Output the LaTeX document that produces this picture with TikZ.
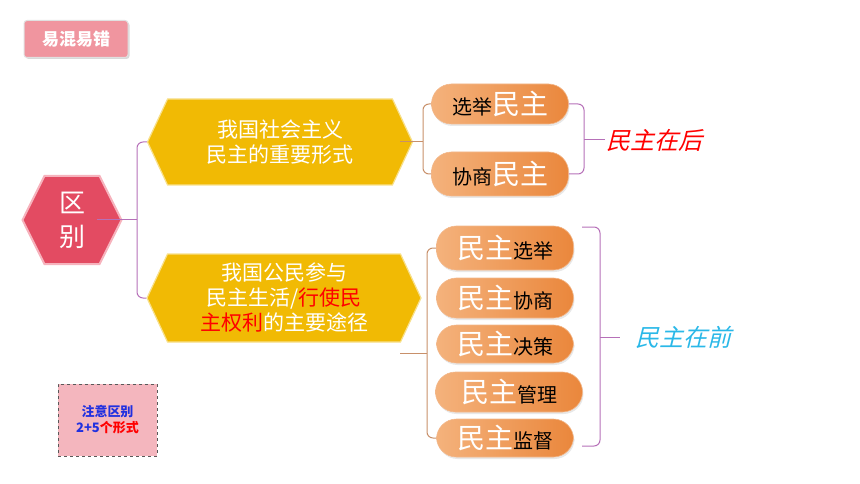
\documentclass[tikz,border=0pt]{standalone}
\usepackage{fontspec}
\setmainfont{Noto Sans CJK SC}
\newfontfamily\cjkslant[FakeSlant=0.25]{Noto Sans CJK SC}
\usetikzlibrary{shapes.symbols,shadows,positioning}
\definecolor{hexred}{HTML}{E34B62}
\definecolor{hexrim}{HTML}{F6B3BD}
\definecolor{hexgold}{HTML}{F1BA04}
\definecolor{goldrim}{HTML}{F8E08A}
\definecolor{pillL}{HTML}{F4B27C}
\definecolor{pillR}{HTML}{EA873C}
\definecolor{linkpurple}{HTML}{B670B8}
\definecolor{linkbrown}{HTML}{C8906A}
\definecolor{hotred}{HTML}{FF0000}
\definecolor{skyblue}{HTML}{2AB8E8}
\definecolor{tagpink}{HTML}{F0959F}
\definecolor{notepink}{HTML}{F4B6BE}
\definecolor{noteblue}{HTML}{2030E0}
\tikzset{
  redhex/.style={signal, signal to=west and east, signal pointer angle=127,
    fill=hexred, draw=hexrim, line width=2pt, text=white, align=center,
    minimum width=99pt, minimum height=88pt, inner sep=0pt,
    font=\fontsize{26}{34}\selectfont},
  goldhex/.style={signal, signal to=west and east, signal pointer angle=130,
    fill=hexgold, draw=goldrim, line width=1.2pt, text=white, align=center,
    minimum width=265pt, minimum height=86pt, inner sep=0pt,
    font=\fontsize{21}{25}\selectfont},
  pill/.style={rounded corners=20pt, left color=pillL, right color=pillR,
    draw=pillR!60, line width=0.6pt, minimum width=137pt, minimum height=40pt,
    inner sep=0pt, font=\fontsize{20}{20}\selectfont,
    drop shadow={opacity=0.18, shadow xshift=1pt, shadow yshift=-2pt}},
  tagbox/.style={rounded corners=3pt, fill=tagpink, draw=black!12, line width=1pt,
    minimum width=104pt, minimum height=37pt, text=white,
    font=\fontsize{17}{17}\selectfont\bfseries,
    drop shadow={opacity=0.3, shadow xshift=1.5pt, shadow yshift=-1.5pt}},
  notebox/.style={fill=notepink, draw=black!65, dashed, line width=0.9pt,
    minimum width=99pt, minimum height=72pt, align=center,
    font=\fontsize{13}{16}\selectfont\bfseries},
  linkp/.style={draw=linkpurple, line width=1pt, rounded corners=6pt},
  linkb/.style={draw=linkbrown, line width=1pt, rounded corners=6pt},
  tag/.style={inner sep=1pt, font=\cjkslant\fontsize{24}{24}\selectfont}
}
\newcommand{\bigmz}{{\fontsize{28}{28}\selectfont\textcolor{white}{民主}}}

\begin{document}
\begin{tikzpicture}[x=1pt,y=-1pt]
	\useasboundingbox (0,0) rectangle (860,484);
	\node[tagbox] (tag) at (76,39) {易混易错};
	\node[redhex] (qb) at (72,220) {区\\别};
	\node[goldhex] (hexA) at (280,142) {我国社会主义\\民主的重要形式};
	\node[goldhex, minimum width=274pt, minimum height=88pt] (hexB) at (284,298)
		{我国公民参与\\民主生活/\textcolor{hotred}{行使民}\\\textcolor{hotred}{主权利}的主要途径};
	\node[pill] (xj) at (500,104) {选举\bigmz};
	\node[pill, minimum height=44pt] (xs) at (500,174) {协商\bigmz};
	\node[pill, minimum height=44pt] (p1) at (505,248) {\bigmz 选举};
	\node[pill] (p2) at (505,298) {\bigmz 协商};
	\node[pill, minimum height=38pt] (p3) at (505,344) {\bigmz 决策};
	\node[pill, minimum width=147pt] (p4) at (509,392) {\bigmz 管理};
	\node[pill, minimum height=38pt] (p5) at (505,438) {\bigmz 监督};
	\node[notebox] (note) at (107.5,420)
		{\textcolor{noteblue}{注意区别}\\\textcolor{noteblue}{2+5}\textcolor{hotred}{个形式}};
	% left fork
	\coordinate (leadQ) at (97,219);
	\coordinate (spineQ) at (137,219);
	\draw[linkp] (hexA.west) -| (spineQ) |- (hexB.west);
	\draw[linkp] (leadQ) -- (spineQ);
	% fork to the upper pills
	\coordinate (leadA) at (400,142);
	\coordinate (spineA) at (423,142);
	\draw[linkb] (xj.west) -| (spineA) |- (xs.west);
	\draw[linkb] (leadA) -- (spineA);
	% fork to the lower pills
	\coordinate (leadB) at (400,353);
	\coordinate (spineB) at (427,353);
	\draw[linkb] (p1.west) -| (spineB) |- (p5.west);
	\draw[linkb] (leadB) -- (spineB);
	% braces
	\coordinate (bkA) at (584,140);
	\coordinate (tipA) at (605,140);
	\draw[linkp] (xj.east) -| (bkA) |- (xs.east);
	\draw[linkp] (bkA) -- (tipA);
	\node[tag, text=hotred, anchor=west] (hou) at (tipA) {民主在后};
	\coordinate (topB) at (582,227);
	\coordinate (botB) at (582,446);
	\coordinate (bkB) at (600,337);
	\coordinate (tipB) at (620,337);
	\draw[linkp] (topB) -| (bkB) |- (botB);
	\draw[linkp] (bkB) -- (tipB);
	\node[tag, text=skyblue, right=14pt of tipB] (qian) {民主在前};
\end{tikzpicture}
\end{document}
